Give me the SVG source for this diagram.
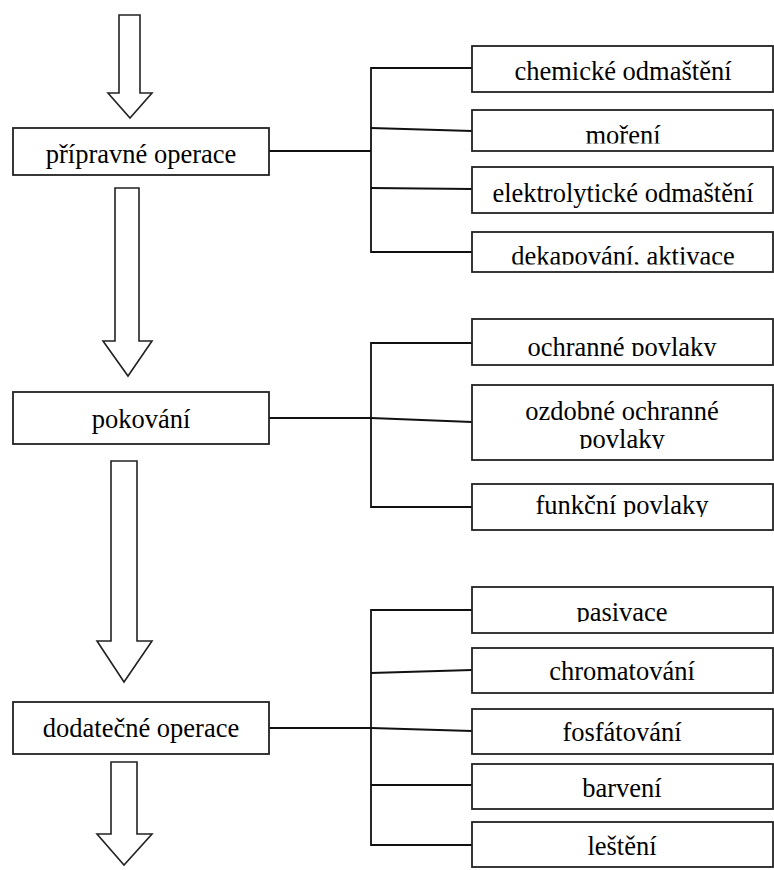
<svg xmlns="http://www.w3.org/2000/svg" width="774" height="870" viewBox="0 0 774 870">
<style>
.box{fill:#fff;stroke:#222;stroke-width:1.8}
.arr{fill:#fff;stroke:#222;stroke-width:1.6;stroke-linejoin:miter}
.t{font-family:"Liberation Serif","Times New Roman",serif;font-size:26.5px;fill:#000;text-anchor:middle}
.c{fill:none;stroke:#111;stroke-width:1.8}
</style>
<defs>
<clipPath id="cp-moreni"><rect x="472" y="110" width="302" height="33.5"/></clipPath>
<clipPath id="cp-dekap"><rect x="472" y="232" width="302" height="32.5"/></clipPath>
<clipPath id="cp-ochr"><rect x="472" y="319" width="302" height="37"/></clipPath>
<clipPath id="cp-ozd"><rect x="472" y="385" width="302" height="64"/></clipPath>
<clipPath id="cp-funk"><rect x="472" y="484" width="302" height="33"/></clipPath>
<clipPath id="cp-pas"><rect x="472" y="587" width="302" height="35"/></clipPath>
</defs>
<rect width="774" height="870" fill="#fff"/>
<g id="arrows">
<polygon class="arr" points="119,15 140,15 140,93 152,93 130,118 108,93 119,93"/>
<polygon class="arr" points="115,188 139,188 139,341 152,341 128,376 103,341 115,341"/>
<polygon class="arr" points="111,461 137,461 137,641 152,641 124,682 97,641 111,641"/>
<polygon class="arr" points="111,762 137,762 137,834 152,834 124,865 97,834 111,834"/>
</g>
<g id="connectors">
<polyline class="c" points="269,151 371,151"/>
<polyline class="c" points="472,68 371,68 371,252 472,252"/>
<polyline class="c" points="371,128 472,131"/>
<polyline class="c" points="371,188 472,189"/>
<polyline class="c" points="269,418 371,418"/>
<polyline class="c" points="472,343 371,343 371,507 472,507"/>
<polyline class="c" points="371,418 472,422"/>
<polyline class="c" points="269,728 371,728"/>
<polyline class="c" points="472,610 371,610 371,845 472,845"/>
<polyline class="c" points="371,673 472,670"/>
<polyline class="c" points="371,728 472,731"/>
<polyline class="c" points="371,785 472,785"/>
</g>
<g id="n-pripravne"><rect class="box" x="13" y="128" width="256" height="47"/><text class="t" x="141" y="163">přípravné operace</text></g>
<g id="n-pokovani"><rect class="box" x="13" y="392" width="256" height="52"/><text class="t" x="141" y="428">pokování</text></g>
<g id="n-dodatecne"><rect class="box" x="13" y="702" width="256" height="52"/><text class="t" x="141" y="737">dodatečné operace</text></g>
<g id="n-chem"><rect class="box" x="472" y="46" width="301" height="46"/><text class="t" x="623" y="80">chemické odmaštění</text></g>
<g id="n-moreni"><rect class="box" x="472" y="110" width="301" height="41"/><text class="t" x="623" y="144" clip-path="url(#cp-moreni)">moření</text></g>
<g id="n-elektro"><rect class="box" x="472" y="167" width="301" height="46"/><text class="t" x="623" y="202">elektrolytické odmaštění</text></g>
<g id="n-dekap"><rect class="box" x="472" y="232" width="301" height="40"/><text class="t" x="623" y="265" clip-path="url(#cp-dekap)">dekapování, aktivace</text></g>
<g id="n-ochranne"><rect class="box" x="472" y="319" width="301" height="46"/><text class="t" x="622" y="355.5" clip-path="url(#cp-ochr)">ochranné povlaky</text></g>
<g id="n-ozdobne"><rect class="box" x="472" y="385" width="301" height="75"/><text class="t" x="622" y="420" clip-path="url(#cp-ozd)"><tspan x="622">ozdobné ochranné</tspan><tspan x="622" y="447.5">povlaky</tspan></text></g>
<g id="n-funkcni"><rect class="box" x="472" y="484" width="301" height="46"/><text class="t" x="622" y="514" clip-path="url(#cp-funk)">funkční povlaky</text></g>
<g id="n-pasivace"><rect class="box" x="472" y="587" width="301" height="46"/><text class="t" x="622" y="620.5" clip-path="url(#cp-pas)">pasivace</text></g>
<g id="n-chromat"><rect class="box" x="472" y="648" width="301" height="45"/><text class="t" x="622" y="680">chromatování</text></g>
<g id="n-fosfat"><rect class="box" x="472" y="709" width="301" height="45"/><text class="t" x="622" y="741">fosfátování</text></g>
<g id="n-barveni"><rect class="box" x="472" y="764" width="301" height="45"/><text class="t" x="622" y="797">barvení</text></g>
<g id="n-lesteni"><rect class="box" x="472" y="822" width="301" height="45"/><text class="t" x="622" y="855">leštění</text></g>
</svg>
